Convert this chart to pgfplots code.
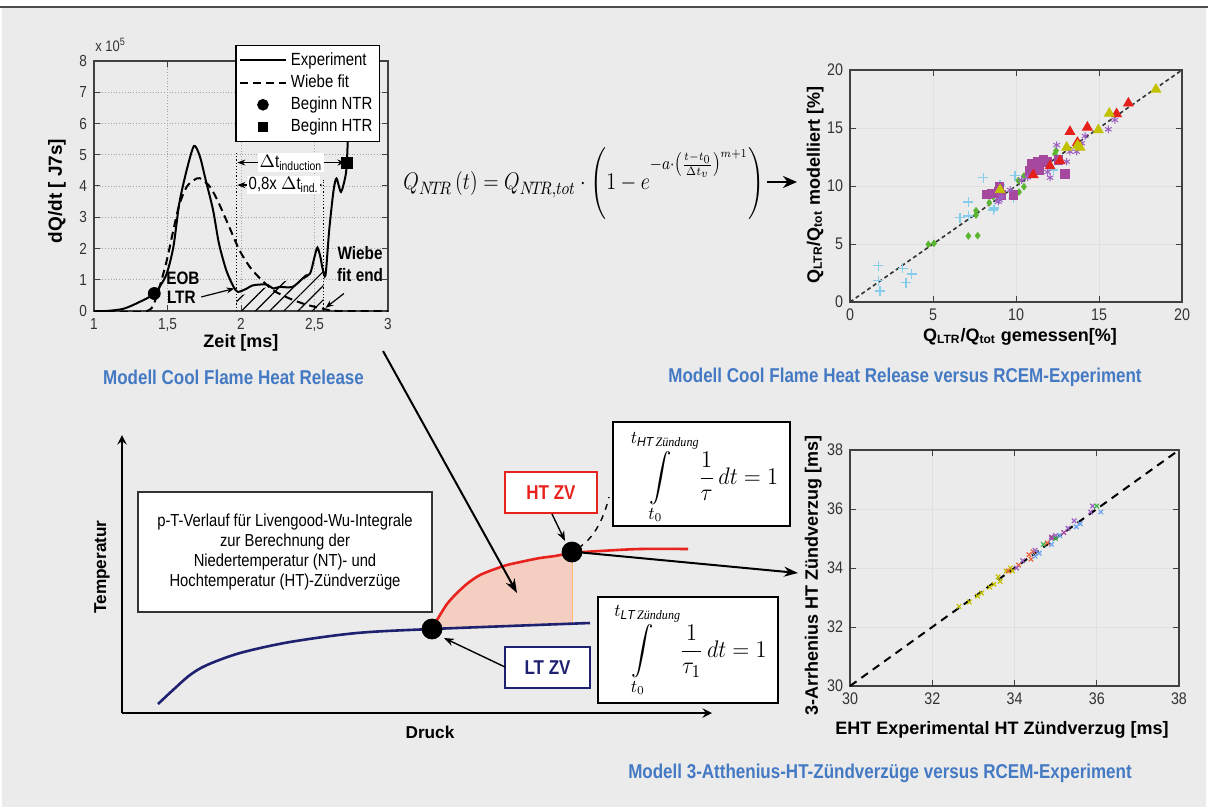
\documentclass[border=0pt]{standalone}
\usepackage{amsmath}
\usepackage{graphicx}
\usepackage{fontspec}
\setmainfont{Liberation Sans}
\newfontfamily\cond[FakeStretch=0.85]{Liberation Sans}
\newfontfamily\tms{Liberation Serif}
\usepackage{pgfplots}
\pgfplotsset{compat=1.18}
\usetikzlibrary{arrows.meta,patterns.meta}
\definecolor{bg}{HTML}{EBEBEB}
\definecolor{capblue}{HTML}{4479C4}
\definecolor{cyanp}{HTML}{86CCEB}
\definecolor{greenp}{HTML}{5BB531}
\definecolor{magp}{HTML}{A6489E}
\definecolor{purp}{HTML}{9C5FC2}
\definecolor{redp}{HTML}{E5201B}
\definecolor{yelp}{HTML}{C2C200}
\definecolor{navy}{HTML}{1E2070}
\definecolor{salmon}{HTML}{F4CEC0}
\definecolor{htred}{HTML}{E8231E}
\definecolor{orng}{HTML}{E8643A}
\definecolor{grnb}{HTML}{3DB34A}
\pgfplotsset{
  myax/.style={scale only axis, anchor=south west,
    axis line style={black!75, line width=0.6pt},
    tick style={black!75, line width=0.5pt}, major tick length=3pt,
    /pgf/number format/assume math mode=true,
    ticklabel style={font=\cond\fontsize{8.4}{9}\selectfont, text=black!80},
    label style={font=\bfseries\fontsize{9}{10}\selectfont}},
}
\begin{document}
\begin{tikzpicture}
\begin{scope}[x=0.5pt,y=0.5pt]
\fill[white] (0,0) rectangle (1208,-807);
\fill[bg] (2,-8) rectangle (1206,-807);
\draw[black!70, line width=1pt] (0,-7.5) -- (1208,-7.5);
\end{scope}

% ---------------- top-left: heat release ----------------
\begin{axis}[myax, at={(47pt,-155.5pt)}, width=147pt, height=125pt,
  xmin=1, xmax=3, ymin=0, ymax=8, xtick={1,1.5,2,2.5,3}, ytick={0,...,8},
  /pgf/number format/use comma,
  ticklabel style={font=\cond\fontsize{8}{8}\selectfont},
  grid=major, grid style={densely dotted, black!35},
  xlabel={Zeit [ms]}, ylabel={dQ/dt [ J7s]},
  x label style={at={(axis description cs:0.5,-0.128)}, anchor=center},
  y label style={at={(axis description cs:-0.126,0.48)}, anchor=center, font=\bfseries\fontsize{9.5}{10}\selectfont},
  legend style={at={(axis description cs:0.973,1.064)}, anchor=north east, draw=black, line width=0.6pt, fill=white,
    font=\cond\fontsize{8.8}{9.5}\selectfont, inner sep=1.5pt, row sep=-0.8pt, cells={anchor=west}},
  legend image code/.code={\draw[#1] (0pt,0pt) -- (23pt,0pt);},
  clip=true]
\addlegendimage{black, line width=1pt}
\addlegendentry{Experiment}
\addlegendimage{black, line width=1pt, dash pattern=on 4pt off 2.5pt}
\addlegendentry{Wiebe fit}
\addlegendimage{legend image code/.code={\fill[black] (11.5pt,0pt) circle (2.6pt);}}
\addlegendentry{Beginn NTR}
\addlegendimage{legend image code/.code={\fill[black] (9.3pt,-2.2pt) rectangle (13.7pt,2.2pt);}}
\addlegendentry{Beginn HTR}
% hatched region
\addplot[draw=none, pattern={Lines[angle=45,distance=5pt,line width=0.6pt]}, pattern color=black, forget plot]
  coordinates {(1.97,0) (1.97,0.45) (2.56,1.35) (2.56,0)} -- cycle;
\addplot[black, densely dotted, line width=0.6pt, forget plot] coordinates {(1.97,0) (1.97,5.05)};
\addplot[black, densely dotted, line width=0.6pt, forget plot] coordinates {(2.56,0) (2.56,4.2)};
% Wiebe fit
\addplot[black, line width=1pt, dash pattern=on 4pt off 2.5pt, smooth, tension=0.45, forget plot] coordinates {
(1.0,0) (1.36,0) (1.43,0.55) (1.49,1.52) (1.54,2.59) (1.58,3.4) (1.63,3.97) (1.68,4.19) (1.72,4.25)
(1.79,3.97) (1.85,3.44) (1.92,2.69) (1.99,1.94) (2.06,1.41) (2.13,1.04) (2.22,0.66) (2.33,0.40)
(2.44,0.21) (2.56,0.07) (2.65,0.0) (3,0)};
% Experiment
\addplot[black, line width=1pt, smooth, tension=0.45, forget plot] coordinates {
(1.0,0) (1.08,0) (1.2,0.07) (1.31,0.29) (1.41,0.56) (1.49,1.14) (1.54,2.05) (1.58,3.44) (1.63,4.5)
(1.68,5.28) (1.72,4.95) (1.76,4.19) (1.81,3.23) (1.85,2.16) (1.90,1.30) (1.95,0.77) (1.98,0.61)
(2.04,0.72) (2.08,0.82) (2.17,0.85) (2.22,0.72) (2.26,0.77) (2.35,0.77) (2.42,1.04) (2.47,1.2)
(2.50,1.73) (2.52,2.03) (2.54,1.73) (2.555,1.36) (2.575,1.15) (2.60,2.59) (2.63,3.87) (2.65,4.24)
(2.68,3.81) (2.71,4.3) (2.72,4.74) (2.73,5.79) (2.745,6.6) (2.76,8)};
\addplot[only marks, mark=*, mark size=3pt, black, forget plot] coordinates {(1.41,0.56)};
\addplot[only marks, mark=square*, mark size=2.6pt, black, forget plot] coordinates {(2.72,4.74)};
% annotations
\draw[{Stealth[length=4pt]}-{Stealth[length=4pt]}, line width=0.6pt] (axis cs:1.975,4.75) -- (axis cs:2.71,4.75);
\node[fill=white, inner sep=0.8pt, font=\cond\fontsize{8.8}{9}\selectfont] at (axis cs:2.34,4.75) {$\Delta$t\textsubscript{induction}};
\draw[{Stealth[length=4pt]}-{Stealth[length=4pt]}, line width=0.6pt] (axis cs:1.975,4.03) -- (axis cs:2.555,4.03);
\node[fill=white, inner sep=0.8pt, font=\cond\fontsize{8.8}{9}\selectfont] at (axis cs:2.29,4.03) {0,8x $\Delta$t\textsubscript{ind.}};
\node[font=\cond\bfseries\fontsize{9}{9}\selectfont] at (axis cs:1.605,1.04) {EOB};
\node[font=\cond\bfseries\fontsize{9}{9}\selectfont] at (axis cs:1.594,0.45) {LTR};
\draw[-{Stealth[length=4pt]}, line width=0.6pt] (axis cs:1.73,0.45) -- (axis cs:1.955,0.72);
\node[font=\cond\bfseries\fontsize{9}{9}\selectfont] at (axis cs:2.81,1.86) {Wiebe};
\node[font=\cond\bfseries\fontsize{9}{9}\selectfont] at (axis cs:2.81,1.14) {fit end};
\draw[-{Stealth[length=4pt]}, line width=0.6pt] (axis cs:2.70,0.56) -- (axis cs:2.575,0.1);
\end{axis}

% ---------------- top-right scatter ----------------
\begin{axis}[myax, at={(425pt,-151pt)}, width=166pt, height=116pt,
  xmin=0, xmax=20, ymin=0, ymax=20, xtick={0,5,...,20}, ytick={0,5,...,20},
  grid=major, grid style={black!12, line width=0.5pt},
  xlabel={Q\textsubscript{LTR}/Q\textsubscript{tot} gemessen[\%]},
  ylabel={Q\textsubscript{LTR}/Q\textsubscript{tot} modelliert [\%]},
  x label style={at={(axis description cs:0.512,-0.151)}, anchor=center},
  y label style={at={(axis description cs:-0.105,0.504)}, anchor=center}]
\addplot[only marks, mark=+, mark size=2.5pt, cyanp, line width=0.6pt] coordinates {
(1.71,3.13) (1.71,1.84) (1.81,0.95) (3.17,2.90) (3.37,1.67) (3.71,2.41) (6.63,7.27) (7.13,8.62)
(7.13,7.41) (8.03,10.72) (8.63,7.93) (8.7,8.1) (9.04,10.09) (9.24,9.51) (9.84,8.94) (9.94,10.89)
(11.95,11.67) (12.25,11.38)};
\addplot[only marks, mark=diamond*, mark size=1.6pt, greenp] coordinates {
(4.72,4.97) (5.06,5.06) (7.13,5.69) (7.69,5.72) (7.59,7.5) (7.59,7.87) (8.39,8.56) (8.63,9.08)
(10.18,9.48) (10.48,9.94) (10.14,10.46) (10.48,10.86) (12.35,12.76) (12.41,13.05)};
\addplot[only marks, mark=square*, mark size=2.2pt, magp] coordinates {
(8.23,9.28) (8.53,9.37) (8.98,9.51) (9.10,9.22) (9.84,9.22) (10.84,11.29) (10.98,11.95) (11.31,12.10)
(11.65,12.24) (11.85,12.10) (12.95,11.03) (12.55,12.24) (11.41,11.38) (9.0,9.9)};
\addplot[only marks, mark=asterisk, mark size=1.9pt, purp, line width=0.5pt] coordinates {
(8.94,8.65) (9.14,9.08) (9.64,9.66) (10.34,10.52) (10.70,10.75) (12.05,10.72) (12.45,13.53)
(13.05,12.10) (13.25,12.96) (13.65,12.96) (13.96,13.68) (14.16,14.31) (15.56,14.89) (15.96,15.69)
(9.0,8.8) (11.9,11.2)};
\addplot[only marks, mark=triangle*, mark size=2.8pt, redp] coordinates {
(11.04,10.95) (12.05,11.72) (12.65,12.16) (13.25,14.68) (13.70,13.74) (14.30,15.06) (16.06,16.21) (16.77,17.13)};
\addplot[only marks, mark=triangle*, mark size=2.8pt, yelp] coordinates {
(9.04,9.66) (13.05,13.33) (13.86,13.33) (14.96,14.83) (15.62,16.26) (18.43,18.33) (13.7,13.5)};
\addplot[black!80, line width=0.8pt, dash pattern=on 2pt off 1.5pt] coordinates {(0,0) (20,20)};
\end{axis}

% ---------------- bottom-right scatter ----------------
\begin{axis}[myax, at={(425pt,-343pt)}, width=164.5pt, height=118pt,
  xmin=30, xmax=38, ymin=30, ymax=38, xtick={30,32,...,38}, ytick={30,32,...,38},
  grid=major, grid style={black!12, line width=0.5pt},
  xlabel={EHT Experimental HT Zündverzug [ms]},
  ylabel={3-Arrhenius HT Zündverzug [ms]},
  x label style={at={(axis description cs:0.462,-0.186)}, anchor=center},
  y label style={at={(axis description cs:-0.112,0.47)}, anchor=center}]
\addplot[black, line width=1pt, dash pattern=on 4pt off 3pt] coordinates {(30,30) (38,38)};
\addplot[only marks, mark=x, mark size=1.6pt, yelp, line width=0.6pt] coordinates {
(32.65,32.7) (32.9,32.85) (33.1,33.05) (33.2,33.15) (33.4,33.35) (33.5,33.45) (33.6,33.7) (33.65,33.55)
(33.8,33.9) (33.9,34.0) (33.95,33.9)};
\addplot[only marks, mark=x, mark size=1.6pt, orng, line width=0.6pt] coordinates {
(33.85,33.9) (34.1,34.1) (34.35,34.45) (34.4,34.3) (34.45,34.55) (34.8,34.85)};
\addplot[only marks, mark=x, mark size=1.6pt, purp, line width=0.6pt] coordinates {
(34.05,34.0) (34.2,34.25) (34.5,34.6) (34.9,35.0) (35.0,35.1) (35.3,35.35) (35.45,35.6) (35.9,36.1) (35.85,35.9)};
\addplot[only marks, mark=x, mark size=1.6pt, cyanp!80!blue, line width=0.6pt] coordinates {
(34.5,34.4) (34.6,34.5) (34.9,34.8) (35.1,35.1) (35.5,35.4) (36.1,35.9) (35.6,35.5)};
\addplot[only marks, mark=x, mark size=1.6pt, grnb, line width=0.6pt] coordinates {
(34.7,34.8) (35.0,35.0) (36.0,36.1)};
\addplot[only marks, mark=x, mark size=1.6pt, magp, line width=0.6pt] coordinates {
(34.9,35.05) (35.2,35.2)};
\end{axis}

% ---------------- bottom-left p-T diagram ----------------
\begin{axis}[at={(61pt,-356.5pt)}, anchor=south west, scale only axis, width=295pt, height=139pt,
  axis lines=left, axis line style={line width=1.1pt},
  xmin=0, xmax=590, ymin=0, ymax=278, xtick=\empty, ytick=\empty, clip=false,
  xlabel={Druck}, ylabel={Temperatur},
  label style={font=\bfseries\fontsize{8.6}{9}\selectfont},
  x label style={at={(axis description cs:0.522,-0.068)}, anchor=center},
  y label style={at={(axis description cs:-0.034,0.525)}, anchor=center}]
\addplot[fill=salmon, draw=none] coordinates {(310,84) (315,93) (325,109) (335,120) (346,130) (358,138)
 (373,144) (385,148) (403,152) (418,155) (433,157) (450,160) (450,89.3) (385,87) (310,84)} -- cycle;
\addplot[orange!55, line width=0.4pt] coordinates {(450,89) (450,160)};
\addplot[navy, line width=1.3pt, smooth] coordinates {(36,9) (51,23) (68,38) (85,48) (118,60) (168,71)
 (235,80) (310,84) (468,90)};
\addplot[htred, line width=1.3pt, smooth] coordinates {(310,84) (315,93) (325,109) (335,120) (346,130)
 (358,138) (373,144) (385,148) (403,152) (418,155) (433,157) (450,160) (478,162) (518,164) (566,164)};
\addplot[only marks, mark=*, mark size=5pt, black] coordinates {(310,84) (450,161)};
\end{axis}

\begin{scope}[x=0.5pt,y=0.5pt]
\node[anchor=south west, inner sep=0pt, font=\cond\fontsize{7.6}{8}\selectfont, text=black!80] at (95,-52) {x 10\textsuperscript{5}};
% text box
\node[draw=black!80, line width=1pt, fill=white, minimum width=147pt, minimum height=60pt, align=center,
  font=\cond\fontsize{8.7}{10}\selectfont] at (285,-552)
  {p-T-Verlauf für Livengood-Wu-Integrale\\zur Berechnung der\\Niedertemperatur (NT)- und\\Hochtemperatur (HT)-Zündverzüge};
% HT / LT labels
\node[draw=htred, line width=0.9pt, fill=white, minimum width=46pt, minimum height=20.5pt, text=htred,
  font=\cond\bfseries\fontsize{10}{10}\selectfont] at (551,-492.5) {HT ZV};
\node[draw=navy, line width=0.9pt, fill=white, minimum width=42.5pt, minimum height=20.5pt, text=navy,
  font=\cond\bfseries\fontsize{10}{10}\selectfont] at (547.5,-667.5) {LT ZV};
\draw[-{Stealth[length=5pt]}, line width=0.7pt] (552,-514) -- (565,-541);
\draw[-{Stealth[length=5pt]}, line width=0.7pt] (505,-667) -- (444,-638);
\draw[dashed, line width=0.7pt] (578,-548) .. controls (592,-540) and (603,-522) .. (609,-497);

% integral boxes
\draw[black, line width=1.2pt, fill=white] (613,-422) rectangle (790,-526);
\node[inner sep=0pt] at (702,-477)
  {\scalebox{0.93}[1]{\fontsize{13}{16}\selectfont$\displaystyle\int\limits_{t_0}^{t_{\mathit{HT}\,\text{\tms\itshape Zündung}}}\frac{1}{\tau}\,dt=1$}};
\draw[black, line width=1.2pt, fill=white] (598,-597) rectangle (778,-703);
\node[inner sep=0pt] at (688,-650)
  {\scalebox{0.93}[1]{\fontsize{13}{16}\selectfont$\displaystyle\int\limits_{t_0}^{t_{\mathit{LT}\,\text{\tms\itshape Zündung}}}\frac{1}{\tau_1}\,dt=1$}};

% long arrows
\draw[-{Stealth[length=7pt,width=5pt]}, line width=1pt] (383,-351) -- (517,-593);
\draw[-{Stealth[length=7pt,width=5pt]}, line width=1pt] (576,-552) -- (798,-573);

% top formula
\node[anchor=base west, inner sep=0pt] at (403,-190)
  {\scalebox{0.84}[1]{\fontsize{13}{15}\selectfont$Q_{N\!T\!R}\left(t\right)=Q_{N\!T\!R,tot}\cdot\left(1-e^{\rule[-9pt]{0pt}{9pt}-a\cdot\left(\frac{t-t_0}{\Delta t_v}\right)^{m+1}}\right)$}};
\draw[-{Stealth[length=7pt,width=6pt]}, line width=1.4pt] (767,-182) -- (797,-182);

% captions
\node[text=capblue, font=\cond\bfseries\fontsize{10}{10}\selectfont] at (233.5,-377) {Modell Cool Flame Heat Release};
\node[text=capblue, font=\cond\bfseries\fontsize{10}{10}\selectfont] at (905,-377) {Modell Cool Flame Heat Release versus RCEM-Experiment};
\node[text=capblue, font=\cond\bfseries\fontsize{10}{10}\selectfont] at (880,-773) {Modell 3-Atthenius-HT-Zündverzüge versus RCEM-Experiment};
\end{scope}
\pgfresetboundingbox
\path[use as bounding box] (0,0) rectangle (604pt,-403.5pt);
\end{tikzpicture}
\end{document}
